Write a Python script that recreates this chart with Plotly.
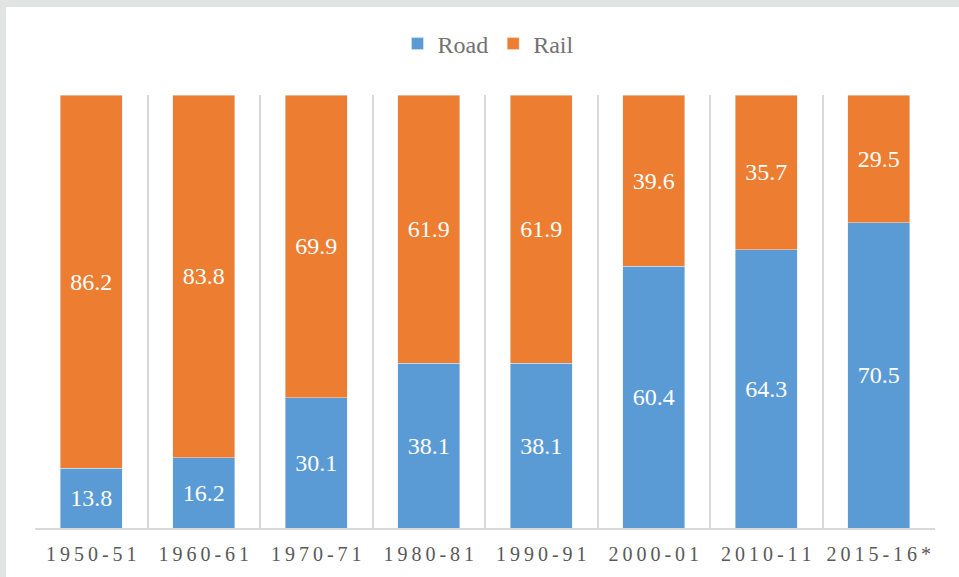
import plotly.graph_objects as go

years = ["1950-51", "1960-61", "1970-71", "1980-81", "1990-91", "2000-01", "2010-11", "2015-16*"]
road = [13.8, 16.2, 30.1, 38.1, 38.1, 60.4, 64.3, 70.5]
rail = [86.2, 83.8, 69.9, 61.9, 61.9, 39.6, 35.7, 29.5]

def spaced(s):
    return "\u2009".join(s)

labels = [spaced(y) for y in years]

FONT = "Liberation Serif"
W, H = 959, 577
ML, MR, MT, MB = 35, 24, 95, 49
PW, PH = W - ML - MR, H - MT - MB

def px_x(p):
    return (p - ML) / PW

def px_y(p):
    return (H - MB - p) / PH

fig = go.Figure()
fig.add_trace(go.Bar(
    name="Road", x=labels, y=road, marker_color="#5B9BD5",
    texttemplate="%{y:.1f}", textposition="inside", insidetextanchor="middle",
    textangle=0, textfont=dict(family=FONT, size=24, color="white"),
))
fig.add_trace(go.Bar(
    name="Rail", x=labels, y=rail, marker_color="#ED7D31",
    texttemplate="%{y:.1f}", textposition="inside", insidetextanchor="middle",
    textangle=0, textfont=dict(family=FONT, size=24, color="white"),
))

fig.update_layout(
    width=W, height=H, autosize=False,
    barmode="stack", bargap=0.45,
    margin=dict(l=ML, r=MR, t=MT, b=MB, autoexpand=False),
    paper_bgcolor="white", plot_bgcolor="white",
    font=dict(family=FONT, color="#595959"),
    legend=dict(orientation="h", x=px_x(488), xanchor="center", y=px_y(44), yanchor="middle",
                font=dict(family=FONT, size=24, color="#767171"), traceorder="normal",
                itemwidth=30),
    xaxis=dict(type="category", tickson="boundaries", showgrid=True, gridcolor="#D9D9D9",
               gridwidth=1.5, showline=True, linecolor="#D9D9D9", linewidth=1.5, ticks="",
               tickfont=dict(family=FONT, size=20, color="#595959"), ticklabelstandoff=7,
               tickangle=0, automargin=False, fixedrange=True),
    yaxis=dict(range=[0, 100], visible=False, fixedrange=True, automargin=False),
    shapes=[
        dict(type="rect", xref="paper", yref="paper", x0=px_x(0), x1=px_x(6), y0=px_y(H), y1=px_y(0),
             fillcolor="#E1E4E3", line=dict(width=0), layer="below"),
        dict(type="rect", xref="paper", yref="paper", x0=px_x(0), x1=px_x(W), y0=px_y(7), y1=px_y(0),
             fillcolor="#E1E4E3", line=dict(width=0), layer="below"),
    ],
)

fig.write_html("out.html", config={"displayModeBar": False},
               post_script="document.body.style.margin='0';document.body.style.overflow='hidden';")
